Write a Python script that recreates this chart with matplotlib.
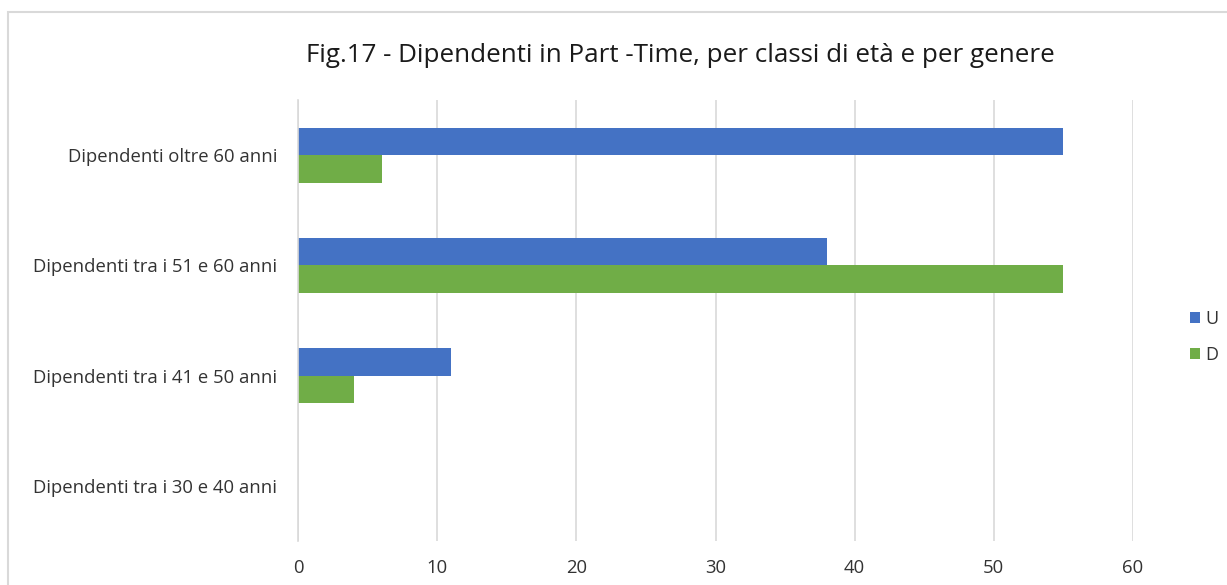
import numpy as np
import matplotlib.pyplot as plt
from matplotlib.patches import Rectangle

# dati
categorie = ["Dipendenti tra i 30 e 40 anni", "Dipendenti tra i 41 e 50 anni",
             "Dipendenti tra i 51 e 60 anni", "Dipendenti oltre 60 anni"]
uomini = [0, 11, 38, 55]
donne = [0, 4, 55, 6]
ticks_x = [0, 10, 20, 30, 40, 50, 60]

plt.rcParams['font.family'] = ['Open Sans', 'DejaVu Sans']
testo = '#333333'

fig = plt.figure(figsize=(12.27, 5.85), dpi=100)
ax = fig.add_axes([298 / 1227, 1 - 541 / 585, (1133 - 298) / 1227, (541 - 100) / 585])

# bordo del grafico
fig.patches.append(Rectangle((8 / 1227, -0.1), 1.1, 1 - 12 / 585 + 0.1,
                             transform=fig.transFigure, fill=False,
                             edgecolor='#d9d9d9', linewidth=1.5))

y = np.arange(len(categorie))
h = 0.25
ax.barh(y + h / 2, uomini, height=h, color='#4472C4', label='U')
ax.barh(y - h / 2, donne, height=h, color='#70AD47', label='D')

ax.set_xlim(0, 60)
ax.set_ylim(-0.5, len(categorie) - 0.5)
ax.set_xticks(ticks_x)
ax.set_yticks(y)
ax.set_yticklabels(categorie)
ax.tick_params(axis='both', length=0, labelsize=13.3, colors=testo)
ax.tick_params(axis='x', pad=13)
ax.tick_params(axis='y', pad=15)
ax.grid(axis='x', color='#d9d9d9', linewidth=1.2)
ax.set_axisbelow(True)
for s in ['top', 'right', 'bottom']:
    ax.spines[s].set_visible(False)
ax.spines['left'].set_color('#d9d9d9')
ax.spines['left'].set_linewidth(1.2)

fig.text(680 / 1227, 1 - 55 / 585, "Fig.17 - Dipendenti in Part -Time, per classi di età e per genere",
         ha='center', va='center', fontsize=18.7, color='#1a1a1a')

leg = ax.legend(loc='center left', bbox_to_anchor=(1183 / 1227, 1 - 337 / 585),
                bbox_transform=fig.transFigure, frameon=False, fontsize=13,
                handlelength=0.55, handleheight=0.55, handletextpad=0.3, labelspacing=1.0,
                borderaxespad=0)
for t in leg.get_texts():
    t.set_color(testo)

fig.savefig('out.png', dpi=100)
